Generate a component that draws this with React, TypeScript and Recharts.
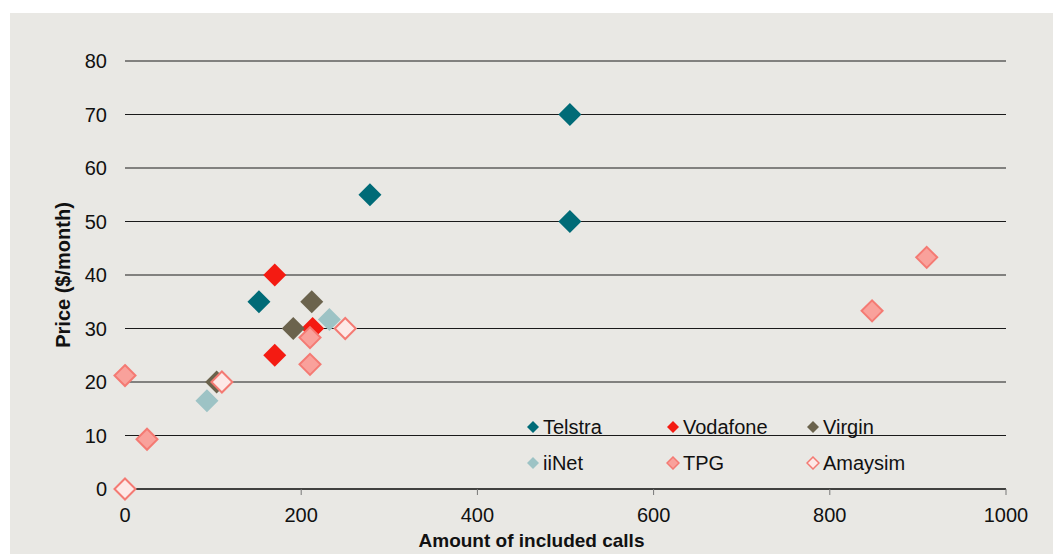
import React from 'react';
import {
  ScatterChart,
  Scatter,
  XAxis,
  YAxis,
  CartesianGrid,
  Label,
} from 'recharts';

const xTicks = [0, 200, 400, 600, 800, 1000];
const yTicks = [0, 10, 20, 30, 40, 50, 60, 70, 80];

const telstra = [
  { x: 152, y: 35 },
  { x: 278, y: 55 },
  { x: 505, y: 70 },
  { x: 505, y: 50 },
];
const vodafone = [
  { x: 170, y: 40 },
  { x: 170, y: 25 },
  { x: 213, y: 30 },
];
const virgin = [
  { x: 212, y: 35 },
  { x: 191, y: 30 },
  { x: 104, y: 20 },
];
const iinet = [
  { x: 93, y: 16.5 },
  { x: 232, y: 31.7 },
];
const tpg = [
  { x: 0, y: 21.2 },
  { x: 25, y: 9.3 },
  { x: 210, y: 28.3 },
  { x: 210, y: 23.3 },
  { x: 848, y: 33.3 },
  { x: 910, y: 43.3 },
];
const amaysim = [
  { x: 0, y: 0 },
  { x: 110, y: 20 },
  { x: 250, y: 30 },
];

const series = [
  { name: 'Telstra', data: telstra, fill: '#006B77', stroke: 'none' },
  { name: 'Vodafone', data: vodafone, fill: '#F41B12', stroke: 'none' },
  { name: 'Virgin', data: virgin, fill: '#6B634D', stroke: 'none' },
  { name: 'iiNet', data: iinet, fill: '#9DC3C5', stroke: 'none' },
  { name: 'TPG', data: tpg, fill: '#F9A19B', stroke: '#F47A73' },
  { name: 'Amaysim', data: amaysim, fill: '#FDE9E7', stroke: '#F47A73' },
];

const font = '"Liberation Sans", Arial, sans-serif';

const makeDiamond = (fill: string, stroke: string, r: number) => (props: any) => {
  const { cx, cy } = props;
  if (cx == null || cy == null) return null;
  const h = stroke === 'none' ? r : r - 1;
  return (
    <polygon
      points={`${cx},${cy - h} ${cx + h},${cy} ${cx},${cy + h} ${cx - h},${cy}`}
      fill={fill}
      stroke={stroke}
      strokeWidth={stroke === 'none' ? 0 : 2}
    />
  );
};

// legend drawn as html overlay so the chart keeps its full plot height
const LegendBox = () => (
  <div
    style={{
      position: 'absolute',
      left: 516,
      top: 402,
      display: 'grid',
      gridTemplateColumns: '140px 140px 140px',
      rowGap: 12,
      fontFamily: font,
      fontSize: 20,
      color: '#111',
    }}
  >
    {series.map((s) => (
      <div key={s.name} style={{ display: 'flex', alignItems: 'center', height: 24 }}>
        <svg width={14} height={14} style={{ marginRight: 3 }}>
          <polygon
            points="7,1 13,7 7,13 1,7"
            fill={s.fill}
            stroke={s.stroke}
            strokeWidth={s.stroke === 'none' ? 0 : 1.5}
          />
        </svg>
        <span>{s.name}</span>
      </div>
    ))}
  </div>
);

const App: React.FC = () => {
  return (
    <div style={{ position: 'absolute', left: 0, top: 0, width: 1053, height: 554, background: '#fff' }}>
      <div style={{ position: 'absolute', left: 10, top: 13, width: 1043, height: 541, background: '#E9E8E4' }}>
        <ScatterChart width={1043} height={541} margin={{ top: 48, right: 47, bottom: 0, left: 0 }}>
          <CartesianGrid horizontal vertical={false} stroke="#1a1a1a" />
          <XAxis
            type="number"
            dataKey="x"
            domain={[0, 1000]}
            ticks={xTicks}
            height={65}
            axisLine={{ stroke: '#000' }}
            tickLine={{ stroke: '#777' }}
            tickSize={6}
            tickMargin={13}
            tick={{ fill: '#111', fontSize: 20, fontFamily: font }}
          >
            <Label
              value="Amount of included calls"
              position="insideBottom"
              offset={7}
              dx={-34}
              style={{ fontFamily: font, fontSize: 19, fontWeight: 'bold', fill: '#111' }}
            />
          </XAxis>
          <YAxis
            type="number"
            dataKey="y"
            domain={[0, 80]}
            ticks={yTicks}
            width={115}
            axisLine={false}
            tickLine={false}
            tickSize={0}
            tickMargin={18}
            tick={{ fill: '#111', fontSize: 20, fontFamily: font }}
          >
            <Label
              value="Price ($/month)"
              angle={-90}
              position="center"
              dx={-5}
              style={{ fontFamily: font, fontSize: 20, fontWeight: 'bold', fill: '#111', textAnchor: 'middle' }}
            />
          </YAxis>
          {series.map((s) => (
            <Scatter
              key={s.name}
              name={s.name}
              data={s.data}
              fill={s.fill}
              shape={makeDiamond(s.fill, s.stroke, 11.5)}
              isAnimationActive={false}
            />
          ))}
        </ScatterChart>
        <LegendBox />
      </div>
    </div>
  );
};

export default App;
